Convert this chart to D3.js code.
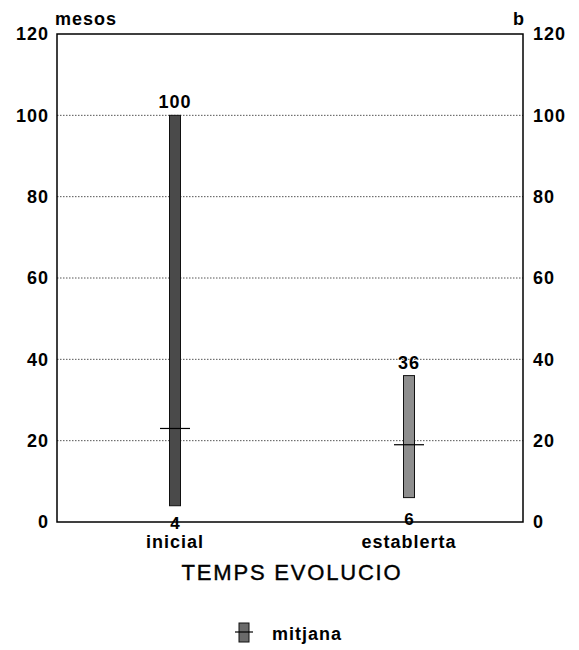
<!DOCTYPE html>
<html>
<head>
<meta charset="utf-8">
<script src="https://cdn.jsdelivr.net/npm/d3@7"></script>
<style>
body { margin: 0; background: #fff; }
text { font-family: "Liberation Sans", Arial, sans-serif; }
</style>
</head>
<body>
<svg id="chart" width="579" height="650"></svg>
<script>
// data
let categories = ["inicial", "establerta"];
let minValues = [4, 6];
let maxValues = [100, 36];
let meanValues = [23, 19];
let barColors = ["#4a4a4a", "#8e8e8e"];
let yTicks = [0, 20, 40, 60, 80, 100, 120];

let width = 579, height = 650;
let frame = {left: 57, right: 523, top: 34, bottom: 522};

let svg = d3.select("#chart");

let x = d3.scalePoint()
    .domain(categories)
    .range([58, 526])
    .padding(0.5);

let y = d3.scaleLinear()
    .domain([0, 120])
    .range([frame.bottom, frame.top]);

// gridlines
svg.append("g")
    .selectAll("line")
    .data(yTicks.filter(d => d > 0 && d < 120))
    .join("line")
    .attr("x1", frame.left).attr("x2", frame.right)
    .attr("y1", d => y(d)).attr("y2", d => y(d))
    .attr("stroke", "#555").attr("stroke-width", 1)
    .attr("stroke-dasharray", "1.5,1.5");

// frame
svg.append("rect")
    .attr("x", frame.left).attr("y", y(120))
    .attr("width", frame.right - frame.left)
    .attr("height", y(0) - y(120))
    .attr("fill", "none").attr("stroke", "#000").attr("stroke-width", 1.5);

// axes
let leftAxis = svg.append("g")
    .attr("transform", `translate(${frame.left},0)`)
    .call(d3.axisLeft(y).tickValues(yTicks).tickSize(0).tickPadding(8));
let rightAxis = svg.append("g")
    .attr("transform", `translate(${frame.right},0)`)
    .call(d3.axisRight(y).tickValues(yTicks).tickSize(0).tickPadding(10));
[leftAxis, rightAxis].forEach(g => {
    g.select(".domain").remove();
    g.selectAll("text")
        .attr("font-size", 18).attr("font-weight", "bold")
        .attr("letter-spacing", 1)
        .attr("fill", "#000")
        .attr("font-family", "'Liberation Sans', Arial, sans-serif");
});

// bars
let barW = 11;
svg.append("g")
    .selectAll("rect")
    .data(categories)
    .join("rect")
    .attr("x", d => x(d) - barW / 2)
    .attr("width", barW)
    .attr("y", (d, i) => y(maxValues[i]))
    .attr("height", (d, i) => y(minValues[i]) - y(maxValues[i]))
    .attr("fill", (d, i) => barColors[i])
    .attr("stroke", "#111").attr("stroke-width", 1);

// mean marks
svg.append("g")
    .selectAll("line")
    .data(categories)
    .join("line")
    .attr("x1", d => x(d) - 15).attr("x2", d => x(d) + 15)
    .attr("y1", (d, i) => y(meanValues[i])).attr("y2", (d, i) => y(meanValues[i]))
    .attr("stroke", "#000").attr("stroke-width", 1.2);

// value labels
svg.append("g")
    .selectAll("text")
    .data(categories)
    .join("text")
    .attr("x", d => x(d))
    .attr("y", (d, i) => y(maxValues[i]) - 7)
    .attr("text-anchor", "middle")
    .attr("font-size", 18).attr("font-weight", "bold").attr("letter-spacing", 1)
    .text((d, i) => maxValues[i]);

svg.append("g")
    .selectAll("text")
    .data(categories)
    .join("text")
    .attr("x", d => x(d))
    .attr("y", (d, i) => i === 0 ? 529 : 525)
    .attr("text-anchor", "middle")
    .attr("font-size", 17).attr("font-weight", "bold")
    .text((d, i) => minValues[i]);

// category labels
svg.append("g")
    .selectAll("text")
    .data(categories)
    .join("text")
    .attr("x", d => x(d))
    .attr("y", 548)
    .attr("text-anchor", "middle")
    .attr("font-size", 18).attr("font-weight", "bold").attr("letter-spacing", 1)
    .text(d => d);

// axis titles
svg.append("text").attr("x", 55).attr("y", 25)
    .attr("font-size", 18).attr("font-weight", "bold").attr("letter-spacing", 1)
    .text("mesos");
svg.append("text").attr("x", 513).attr("y", 25)
    .attr("font-size", 18).attr("font-weight", "bold").text("b");

svg.append("text").attr("x", 292).attr("y", 580)
    .attr("text-anchor", "middle").attr("font-size", 22)
    .attr("letter-spacing", 1.8)
    .attr("stroke", "#000").attr("stroke-width", 0.4)
    .text("TEMPS EVOLUCIO");

// legend
let lg = svg.append("g").attr("transform", "translate(244,632)");
lg.append("rect").attr("x", -5).attr("y", -9).attr("width", 10).attr("height", 19)
    .attr("fill", "#6a6a6a").attr("stroke", "#111");
lg.append("line").attr("x1", -9).attr("x2", 9).attr("y1", 0).attr("y2", 0)
    .attr("stroke", "#000").attr("stroke-width", 1.2);
lg.append("text").attr("x", 28).attr("y", 8)
    .attr("font-size", 18).attr("font-weight", "bold").attr("letter-spacing", 1)
    .text("mitjana");
</script>
</body>
</html>
